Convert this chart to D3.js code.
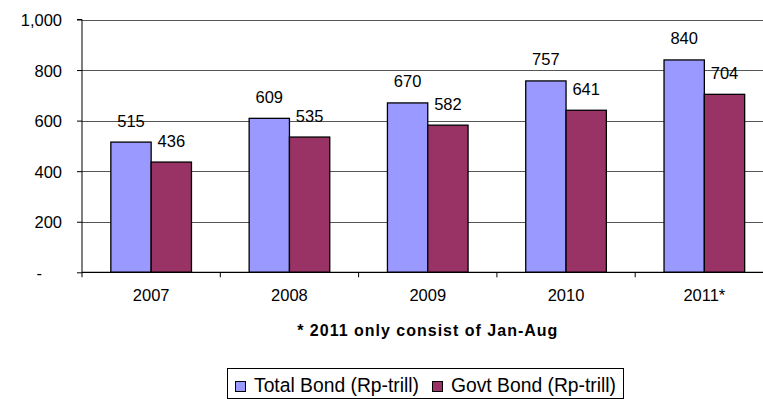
<!DOCTYPE html>
<html><head><meta charset="utf-8">
<script src="https://cdn.jsdelivr.net/npm/d3@7"></script>
<style>body{margin:0;background:#fff;} svg{display:block;}</style>
</head><body>
<svg id="chart" width="763" height="399"></svg>
<script>
const categories = ["2007", "2008", "2009", "2010", "2011*"];
const seriesNames = ["Total Bond (Rp-trill)", "Govt Bond (Rp-trill)"];
const totalBond = [515, 609, 670, 757, 840];
const govtBond = [436, 535, 582, 641, 704];
const yTicks = [0, 200, 400, 600, 800, 1000];
const colors = ["#9999FF", "#993366"];
const footnote = "* 2011 only consist of Jan-Aug";

(function () {
const svg = d3.select("#chart");
const font = "Liberation Sans, Arial, sans-serif";
const pLeft = 82, pRight = 773.5, pTop = 19.5, pBottom = 272.3;

const x0 = d3.scaleBand().domain(categories).range([pLeft, pRight]).paddingInner(0).paddingOuter(0);
const gp = 0.2085;
const x1 = d3.scaleBand().domain(seriesNames)
  .range([x0.bandwidth() * gp, x0.bandwidth() * (1 - gp)]);
const y = d3.scaleLinear().domain([0, 1000]).range([pBottom, pTop]);

const data = categories.map((c, i) => ({cat: c, vals: [
  {s: seriesNames[0], v: totalBond[i], k: 0},
  {s: seriesNames[1], v: govtBond[i], k: 1}]}));

// gridlines
svg.append("g").selectAll("line").data(yTicks.filter(d => d > 0)).join("line")
  .attr("x1", pLeft).attr("x2", pRight)
  .attr("y1", d => Math.round(y(d)) + 0.5).attr("y2", d => Math.round(y(d)) + 0.5)
  .attr("stroke", "#555").attr("stroke-width", 1);

// bars
const groups = svg.append("g").selectAll("g").data(data).join("g")
  .attr("transform", d => `translate(${x0(d.cat)},0)`);
groups.selectAll("rect").data(d => d.vals).join("rect")
  .attr("x", d => x1(d.s)).attr("width", x1.bandwidth())
  .attr("y", d => y(d.v)).attr("height", d => y(0) - y(d.v))
  .attr("fill", d => colors[d.k]).attr("stroke", "#000").attr("stroke-width", 1.3);
groups.selectAll("text").data(d => d.vals).join("text")
  .attr("x", d => x1(d.s) + x1.bandwidth() / 2)
  .attr("y", d => y(d.v) - 15.5)
  .attr("text-anchor", "middle").attr("font-family", font).attr("font-size", 16.5)
  .attr("fill", "#000").text(d => d.v);

// y axis
const yAxis = d3.axisLeft(y).tickValues(yTicks).tickSize(5).tickPadding(15)
  .tickFormat(d => d === 0 ? "-" : d3.format(",")(d));
const ya = svg.append("g").attr("transform", `translate(${pLeft},0)`).call(yAxis);
ya.select(".domain").attr("stroke", "#000").attr("d", `M-5,${pTop}H0V${pBottom}`);
ya.selectAll(".tick line").attr("stroke", "#000");
ya.selectAll(".tick text").attr("font-family", font).attr("font-size", 16.5).attr("fill", "#000")
  .attr("dy", "0.36em");
ya.selectAll(".tick text").filter(d => d === 0).attr("dx", -20);

// x axis
const xa = svg.append("g").attr("transform", `translate(0,${pBottom})`);
xa.append("line").attr("x1", pLeft).attr("x2", pRight).attr("y1", 0).attr("y2", 0).attr("stroke", "#000").attr("stroke-width", 1.3);
xa.selectAll("line.tk").data(categories).join("line").attr("class", "tk")
  .attr("x1", d => x0(d)).attr("x2", d => x0(d)).attr("y1", 0).attr("y2", 5).attr("stroke", "#000");
xa.selectAll("text.lbl").data(categories).join("text").attr("class", "lbl")
  .attr("x", d => x0(d) + x0.bandwidth() / 2).attr("y", 29)
  .attr("text-anchor", "middle").attr("font-family", font).attr("font-size", 16.5).attr("fill", "#000")
  .text(d => d);

// footnote
svg.append("text").attr("x", (pLeft + pRight) / 2).attr("y", 335.5)
  .attr("text-anchor", "middle").attr("font-family", font).attr("font-size", 16)
  .attr("font-weight", "bold").attr("letter-spacing", 1).attr("fill", "#000").text(footnote);

// legend
const lg = svg.append("g");
lg.append("rect").attr("x", 227.5).attr("y", 368.5).attr("width", 396).attr("height", 30)
  .attr("fill", "#fff").attr("stroke", "#000").attr("stroke-width", 1);
const legX = [235, 432];
seriesNames.forEach((s, i) => {
  lg.append("rect").attr("x", legX[i] + 0.5).attr("y", 381.5).attr("width", 10).attr("height", 10)
    .attr("fill", colors[i]).attr("stroke", "#000").attr("stroke-width", 1);
  lg.append("text").attr("x", legX[i] + 19).attr("y", 392).attr("font-family", font)
    .attr("font-size", 19.3).attr("fill", "#000").text(s);
});
})();
</script>
</body></html>
